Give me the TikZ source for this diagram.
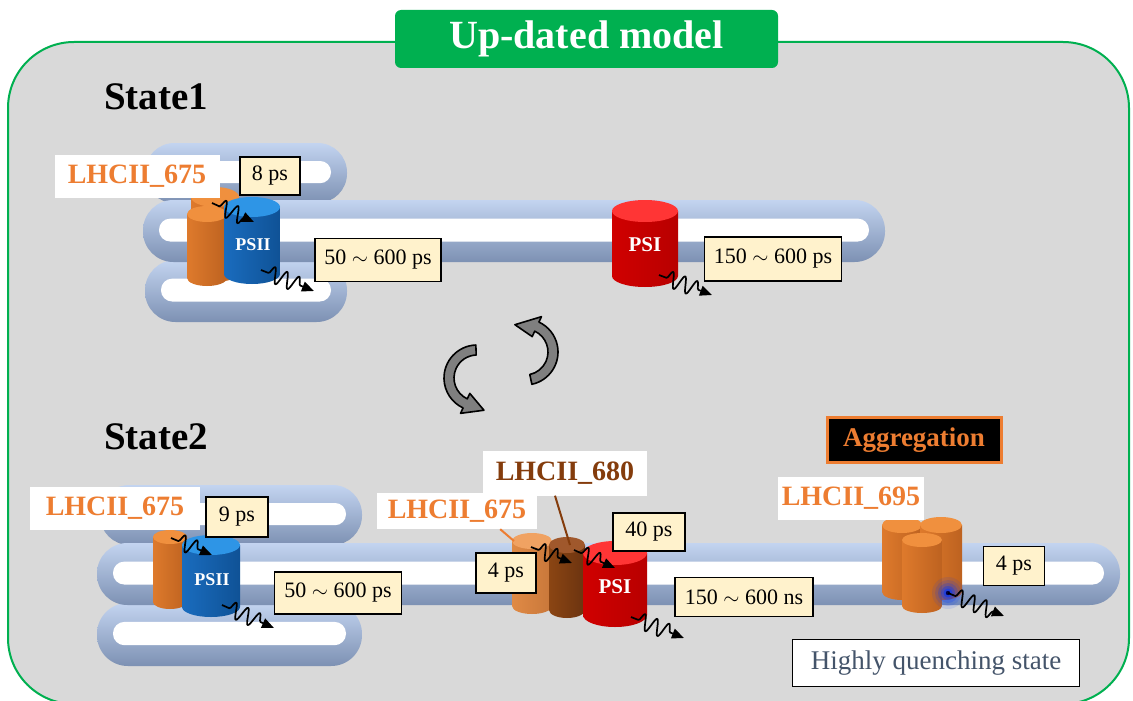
\documentclass[tikz,border=0pt]{standalone}
\usepackage{fontspec}
\setmainfont{Liberation Serif}
\usetikzlibrary{arrows.meta,decorations.pathmorphing,calc}

\definecolor{framegreen}{HTML}{00B050}
\definecolor{panel}{HTML}{D9D9D9}
\definecolor{lhcorange}{HTML}{ED7D31}
\definecolor{lhcbrown}{HTML}{843C0C}
\definecolor{timefill}{HTML}{FFF2CC}
\definecolor{tubetop}{HTML}{C3D4F0}
\definecolor{tubemid}{HTML}{C9DAF6}
\definecolor{tubebot}{HTML}{7D91B3}
\definecolor{slate}{HTML}{44546A}
\definecolor{turngray}{HTML}{7F7F7F}
% cylinder colours: left / middle / right / top
\definecolor{orL}{HTML}{DE7A2C}\definecolor{orM}{HTML}{F8A95E}\definecolor{orR}{HTML}{BD6220}\definecolor{orT}{HTML}{F0903E}
\definecolor{loL}{HTML}{E08A45}\definecolor{loM}{HTML}{F7B57C}\definecolor{loR}{HTML}{C8773A}\definecolor{loT}{HTML}{F0A262}
\definecolor{brL}{HTML}{8B4513}\definecolor{brM}{HTML}{B0662E}\definecolor{brR}{HTML}{6B3310}\definecolor{brT}{HTML}{A0582C}
\definecolor{blL}{HTML}{1A6CBE}\definecolor{blM}{HTML}{2F88D8}\definecolor{blR}{HTML}{0F5296}\definecolor{blT}{HTML}{2E95E6}
\definecolor{rdL}{HTML}{D00000}\definecolor{rdM}{HTML}{FF2A2A}\definecolor{rdR}{HTML}{B80000}\definecolor{rdT}{HTML}{FF3535}

% thylakoid tube: x1, x2, ytop, ybottom
\newcommand\tube[4]{%
  \pgfmathsetmacro\tubeR{0.49*(#4-#3)}%
  \shade[top color=tubetop, middle color=tubemid, bottom color=tubebot, rounded corners=\tubeR pt] (#1,#3) rectangle (#2,#4);
  \pgfmathsetmacro\inT{#3+0.30*(#4-#3)}%
  \pgfmathsetmacro\inB{#3+0.67*(#4-#3)}%
  \pgfmathsetmacro\inR{0.49*(\inB-\inT)}%
  \fill[white, rounded corners=\inR pt] (#1+16,\inT) rectangle (#2-16,\inB);
}
% protein cylinder: cx, top y, bottom y, rx, ry, left, middle, right, top colour
\newcommand\cyl[9]{%
  \shade[left color=#6, middle color=#7, right color=#8] (#1-#4,#2) -- (#1-#4,#3) arc[start angle=180,end angle=0,x radius=#4,y radius=#5] -- (#1+#4,#2) -- cycle;
  \fill[#9] (#1,#2) ellipse[x radius=#4, y radius=#5];
}

\tikzset{
  tbox/.style={draw=black, line width=1.5pt, fill=timefill, inner sep=0pt, font=\fontsize{22}{24}\selectfont},
  lab/.style={fill=white, inner sep=0pt, font=\fontsize{28}{30}\selectfont\bfseries, text=lhcorange},
  statelab/.style={anchor=west, inner sep=0pt, font=\fontsize{39}{40}\selectfont\bfseries},
  squig/.style={line width=1.7pt, line join=round, -{Triangle[length=12pt,width=10pt]}, decorate,
    decoration={snake, amplitude=8pt, segment length=13pt, pre length=8pt, post length=10pt}},
  turn/.style={fill=turngray, draw=black, line width=1.6pt, line join=round},
}

\begin{document}
\begin{tikzpicture}[x=1pt, y=-1pt]
\useasboundingbox (0,0) rectangle (1133,701);
\clip (0,0) rectangle (1133,701);
\fill[white] (0,0) rectangle (1133,701);

% panel and title
\draw[framegreen, line width=2pt, fill=panel, rounded corners=66pt] (8,42) rectangle (1129,704);
\node[fill=framegreen, rounded corners=6pt, minimum width=383pt, minimum height=58pt, inner sep=0pt,
      text=white, font=\fontsize{40}{41}\selectfont\bfseries] (title) at (586.5,39) {Up-dated model};

% ---------------- State 1 ----------------
\node[statelab] (s1) at (104,97) {State1};
\tube{145}{347}{143}{203}
\tube{145}{347}{260}{322}
\tube{143}{885}{200}{262}

\cyl{215}{197}{272}{24}{10}{orL}{orM}{orR}{orT}
\cyl{207}{214}{278}{20}{8}{orL}{orM}{orR}{orT}
\cyl{252}{207}{274}{28}{10}{blL}{blM}{blR}{blT}
\node[text=white, font=\fontsize{18}{20}\selectfont\bfseries] (psii1) at (253,245) {PSII};
\cyl{645}{211}{276}{33}{11}{rdL}{rdM}{rdR}{rdT}
\node[text=white, font=\fontsize{21}{22}\selectfont\bfseries] (psi1) at (645,245) {PSI};

\draw[squig] (212,203) -- (254,222);
\draw[squig] (261,270) -- (314,291);
\draw[squig] (659,275) -- (712,295);

\node[lab, minimum width=165pt, minimum height=43pt] (l675a) at (137,176) {LHCII\_675};
\node[tbox, minimum width=60pt, minimum height=38pt] (t8) at (270,176) {8 ps};
\node[tbox, minimum width=126pt, minimum height=43pt] (t50a) at (378,260) {50 $\sim$ 600 ps};
\node[tbox, minimum width=137pt, minimum height=44pt] (t150a) at (773,259) {150 $\sim$ 600 ps};

% state transition arrows
\coordinate (CA) at (525,352);
\filldraw[turn] ($(CA)+(78:33)$) arc[start angle=78, end angle=-65, radius=33]
  -- ($(CA)+(-65:39)$) -- ($(CA)+(-65:28)+(-175:22)$) -- ($(CA)+(-65:17)$)
  -- ($(CA)+(-65:23)$) arc[start angle=-65, end angle=78, radius=23] -- cycle;
\coordinate (CB) at (477,378);
\filldraw[turn] ($(CB)+(-92:33)$) arc[start angle=-92, end angle=-245, radius=33]
  -- ($(CB)+(-245:39)$) -- ($(CB)+(-245:28)+(20:20)$) -- ($(CB)+(-245:17)$)
  -- ($(CB)+(-245:23)$) arc[start angle=-245, end angle=-92, radius=23] -- cycle;

% ---------------- State 2 ----------------
\node[statelab] (s2) at (104,437) {State2};
\tube{100}{362}{485}{545}
\tube{97}{362}{603}{666}
\tube{97}{1120}{543}{605}

\cyl{170}{537}{602}{17}{7}{orL}{orM}{orR}{orT}
\cyl{211}{545}{607}{29}{10}{blL}{blM}{blR}{blT}
\node[text=white, font=\fontsize{18}{20}\selectfont\bfseries] (psii2) at (212,580) {PSII};

\cyl{532}{541}{606}{20}{8}{loL}{loM}{loR}{loT}
\cyl{567}{545}{610}{18}{8}{brL}{brM}{brR}{brT}
\cyl{615}{553}{615}{32}{12}{rdL}{rdM}{rdR}{rdT}
\node[text=white, font=\fontsize{21}{22}\selectfont\bfseries] (psi2) at (615,587) {PSI};

% aggregated trimer
\cyl{902}{525}{592}{20}{8}{orL}{orM}{orR}{orT}
\cyl{941}{525}{592}{21}{8}{orL}{orM}{orR}{orT}
\cyl{922}{540}{606}{20}{7}{orL}{orM}{orR}{orT}

% quenching centre
\coordinate (qc) at (948,593);
\foreach \r/\o in {16/0.10, 13/0.14, 10/0.22, 7/0.35, 4.5/0.55} \fill[blue!70!cyan!70!blue, opacity=\o] (qc) circle (\r);
\fill[black!70!blue] (qc) circle (2.2);

\draw[squig] (171,538) -- (212,555);
\draw[squig] (222,605) -- (274,628);
\draw[squig] (531,547) -- (572,563);
\draw[squig] (574,550) -- (615,568);
\draw[squig] (631,617) -- (684,638);
\draw[squig] (qc) -- (1004,616);

% labels and leaders
\coordinate (c675top) at (514,541);
\coordinate (c680top) at (570,545);
\node[lab, minimum width=170pt, minimum height=43pt] (l675b) at (115,508) {LHCII\_675};
\node[lab, minimum width=164pt, minimum height=45pt, text=lhcbrown] (l680) at (565,473) {LHCII\_680};
\node[lab, minimum width=160pt, minimum height=36pt] (l675c) at (457,511) {LHCII\_675};
\draw[lhcorange, line width=2pt] (l675c.south east) ++(-37,0) -- (c675top);
\draw[lhcbrown, line width=2pt] (l680.south) ++(-10,0) -- (c680top);
\node[lab, minimum width=146pt, minimum height=43pt] (l695) at (851,498) {LHCII\_695};

\node[draw=lhcorange, line width=3pt, fill=black, text=lhcorange, inner sep=0pt,
      minimum width=174pt, minimum height=45pt, font=\fontsize{27}{29}\selectfont\bfseries] (agg) at (914,440) {Aggregation};

\node[tbox, minimum width=62pt, minimum height=40pt] (t9) at (237,517) {9 ps};
\node[tbox, minimum width=127pt, minimum height=42pt] (t50b) at (338,593) {50 $\sim$ 600 ps};
\node[tbox, minimum width=60pt, minimum height=40pt] (t4a) at (506,573) {4 ps};
\node[tbox, minimum width=72pt, minimum height=38pt] (t40) at (649,532) {40 ps};
\node[tbox, minimum width=138pt, minimum height=39pt] (t150b) at (744,597) {150 $\sim$ 600 ns};
\node[tbox, minimum width=61pt, minimum height=39pt] (t4b) at (1014,566) {4 ps};

\node[draw=black, line width=1.2pt, fill=white, text=slate, inner sep=0pt,
      minimum width=287pt, minimum height=47pt, font=\fontsize{27}{29}\selectfont] (hq) at (936,663) {Highly quenching state};
\end{tikzpicture}
\end{document}
